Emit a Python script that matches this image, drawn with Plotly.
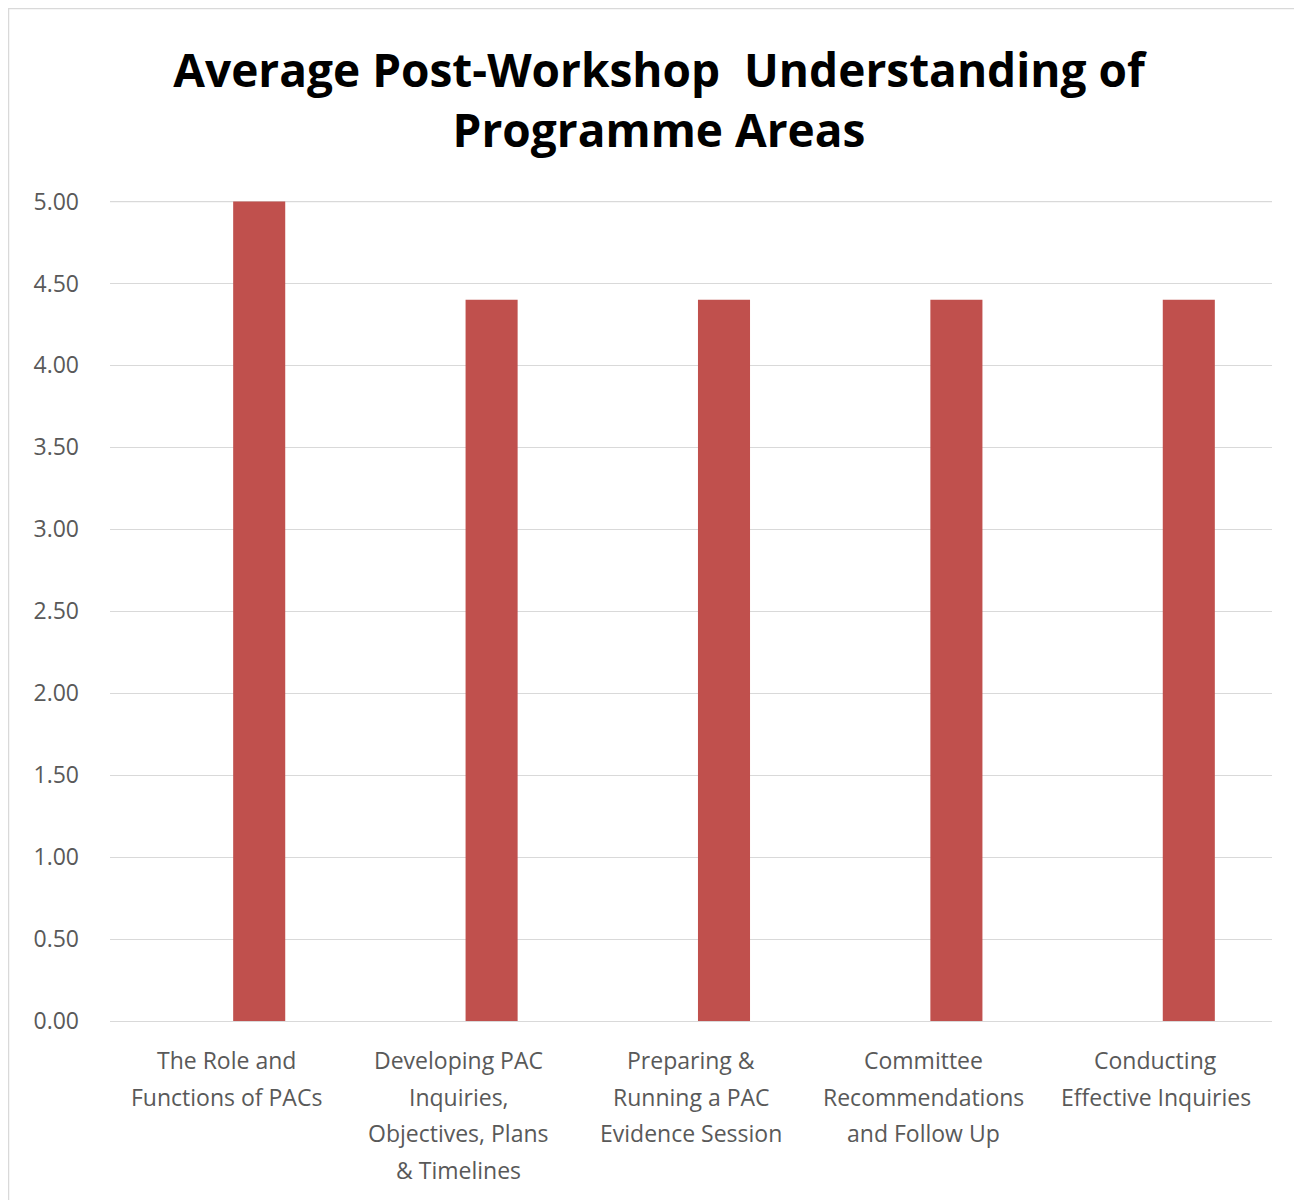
import plotly.graph_objects as go

categories = [
    "The Role and<br>Functions of PACs",
    "Developing PAC<br>Inquiries,<br>Objectives, Plans<br>& Timelines",
    "Preparing &<br>Running a PAC<br>Evidence Session",
    "Committee<br>Recommendations<br>and Follow Up",
    "Conducting<br>Effective Inquiries",
]
values = [5.00, 4.40, 4.40, 4.40, 4.40]
y_ticks = [0, 0.5, 1, 1.5, 2, 2.5, 3, 3.5, 4, 4.5, 5]
y_tick_labels = ["%.2f" % v for v in y_ticks]

W, H = 1302, 1200
ML, MR, MT, MB = 102, 38, 193, 187
PW, PH = W - ML - MR, H - MT - MB

fig = go.Figure()
fig.add_trace(go.Bar(
    x=list(range(len(categories))),
    y=values,
    marker=dict(color="#C0504D", line=dict(width=0)),
    width=0.224,
    offset=0.03,
    showlegend=False,
))

annotations = []
for i, label in enumerate(categories):
    for k, line in enumerate(label.split("<br>")):
        annotations.append(dict(
            x=i, y=0, xref="x", yref="y", text=line, showarrow=False,
            xanchor="center", yanchor="middle", yshift=-39 - k * 36.7,
            font=dict(family="Open Sans", size=23, color="#595959"),
        ))

fig.update_layout(
    width=W, height=H,
    margin=dict(l=ML, r=MR, t=MT, b=MB, pad=0),
    paper_bgcolor="white", plot_bgcolor="white",
    font=dict(family="Open Sans", color="#595959", size=23),
    title=dict(
        text="<b>Average Post-Workshop  Understanding of<br>Programme Areas</b>",
        x=0.5, xanchor="center", y=1 - 79 / H, yanchor="middle",
        font=dict(family="Open Sans", size=46, color="#000000"),
    ),
    xaxis=dict(
        tickmode="array", tickvals=list(range(len(categories))),
        showticklabels=False,
        range=[-0.5, len(categories) - 0.5],
        showgrid=False, zeroline=False, showline=False, ticks="",
    ),
    yaxis=dict(
        range=[0, 5.003], tickmode="array", tickvals=y_ticks, ticktext=y_tick_labels,
        showgrid=True, gridcolor="#D9D9D9", gridwidth=1.3,
        zeroline=True, zerolinecolor="#D9D9D9", zerolinewidth=1.3,
        showline=False, ticks="", ticklabelstandoff=30,
        tickfont=dict(size=23, color="#595959"),
    ),
    annotations=annotations,
    shapes=[
        dict(
            type="rect", xref="paper", yref="paper",
            x0=(0.5 - ML) / PW, x1=(W + 2 - ML) / PW,
            y0=(H - MB - H - 5) / PH, y1=(H - MB - 0.5) / PH,
            line=dict(color="#D9D9D9", width=1.5), fillcolor="rgba(0,0,0,0)",
            layer="below",
        ),
        dict(
            type="line", xref="paper", yref="y", x0=0, x1=1,
            y0=y_ticks[-1], y1=y_ticks[-1],
            line=dict(color="#D9D9D9", width=1.3), layer="below",
        ),
    ],
)

fig.write_html("out.html")
